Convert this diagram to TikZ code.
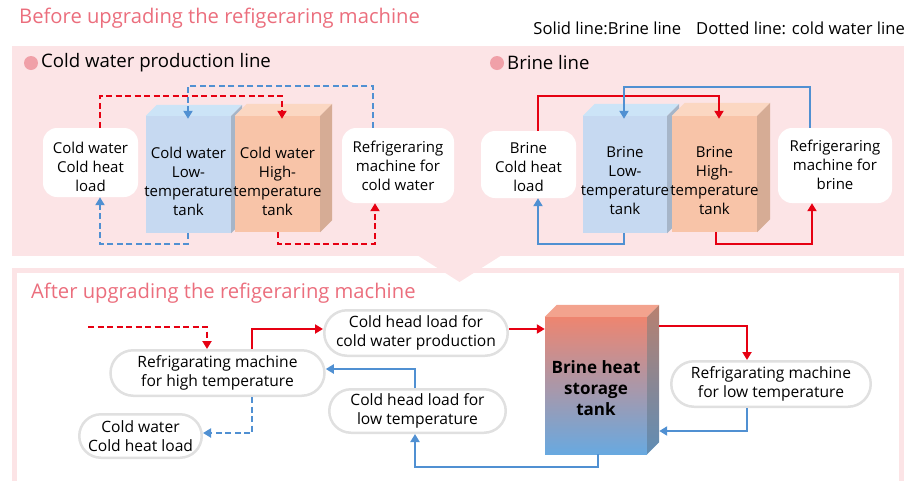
\documentclass[tikz,border=0pt]{standalone}
\usepackage{fontspec}
\setmainfont{Open Sans}
\usetikzlibrary{arrows.meta,calc}
\definecolor{pinkbg}{RGB}{252,228,230}
\definecolor{titlepink}{RGB}{235,110,125}
\definecolor{bullet}{RGB}{240,160,168}
\definecolor{cred}{RGB}{230,0,18}
\definecolor{cblue}{RGB}{80,144,210}
\definecolor{lowfront}{RGB}{198,217,241}
\definecolor{lowtop}{RGB}{204,228,247}
\definecolor{lowside}{RGB}{166,181,200}
\definecolor{highfront}{RGB}{248,196,168}
\definecolor{hightop}{RGB}{251,215,194}
\definecolor{highside}{RGB}{214,172,149}
\definecolor{pillgray}{RGB}{224,224,224}
\definecolor{tktop}{RGB}{238,133,112}
\definecolor{tkbot}{RGB}{104,169,224}
\definecolor{tkcap}{RGB}{243,163,142}
\definecolor{tksidetop}{RGB}{184,128,111}
\definecolor{tksidebot}{RGB}{95,141,181}
\newcommand\tankfaces[4]{%
  \fill[#2] (#1.north west) -- ++(#4,-#4) -- ($(#1.north east)+(#4,-#4)$) -- (#1.north east) -- cycle;
  \fill[#3] (#1.north east) -- ++(#4,-#4) -- ($(#1.south east)+(#4,-#4)$) -- (#1.south east) -- cycle;}
\begin{document}
\begin{tikzpicture}[x=1pt,y=-1pt,
  rbox/.style={fill=white, rounded corners=14pt, align=center, inner sep=0pt},
  pill/.style={fill=white, draw=pillgray, line width=2.5pt, align=center, inner sep=0pt, font=\fontsize{15.6}{18.5}\selectfont},
  tankfront/.style={inner sep=0pt},
  tanktext/.style={align=center, inner sep=0pt, font=\fontsize{15}{19}\selectfont},
  arr/.style={line width=2pt, -{Triangle[length=8pt,width=9pt]}},
  rl/.style={arr, draw=cred},
  bl/.style={arr, draw=cblue},
  rd/.style={rl, dash pattern=on 6pt off 3.5pt},
  bd/.style={bl, dash pattern=on 6pt off 3.5pt},
  tip/.style={shorten >=-3pt}]
\useasboundingbox (0,0) rectangle (916,480);
% panels
\fill[pinkbg] (12,46) rectangle (904,256);
\draw[pinkbg, line width=5pt] (14.5,270.5) rectangle (901.5,500);
\fill[pinkbg] (417,255) -- (502,255) -- (459.5,282) -- cycle;
% titles
\node[anchor=west, inner sep=0pt, text=titlepink, font=\fontsize{20.2}{24}\selectfont] (t1) at (19,18) {Before upgrading the refigeraring machine};
\node[anchor=east, inner sep=0pt, font=\fontsize{16.6}{19}\selectfont] (legend) at (905,28) {Solid line:Brine line\hspace{0.9em}Dotted line: cold water line};
\node[anchor=west, inner sep=0pt, text=titlepink, font=\fontsize{20.2}{24}\selectfont] (t2) at (31,293) {After upgrading the refigeraring machine};
% section headings
\fill[bullet] (31,63) circle (7);
\node[anchor=west, inner sep=0pt, font=\fontsize{18.6}{22}\selectfont] (h1) at (41,63) {Cold water production line};
\fill[bullet] (497,63) circle (7);
\node[anchor=west, inner sep=0pt, font=\fontsize{18.6}{22}\selectfont] (h2) at (507,63) {Brine line};
% cold water line
\node[rbox, minimum width=95pt, minimum height=69pt] (cwload) at (90.5,162.5) {};
\node[tanktext] (cwloadt) at (90.5,166.5) {Cold water\\Cold heat\\load};
\node[rbox, minimum width=112pt, minimum height=75pt] (cwmach) at (398,165.5) {};
\node[tanktext] (cwmacht) at (398,165.5) {Refrigeraring\\machine for\\cold water};
\node[tankfront, fill=lowfront, minimum width=85pt, minimum height=117pt] (cwlow) at (188.5,174.5) {};
\tankfaces{cwlow}{lowtop}{lowside}{11}
\node[tankfront, fill=highfront, minimum width=85pt, minimum height=116pt] (cwhigh) at (277.5,174) {};
\tankfaces{cwhigh}{hightop}{highside}{12}
\node[tanktext] (cwlowt) at (188.5,181) {Cold water\\Low-\\temperature\\tank};
\node[tanktext] (cwhight) at (277.5,181) {Cold water\\High-\\temperature\\tank};
\draw[rd, tip] (cwload.north -| 100,0) |- (282,96) -- (cwhigh.north -| 282,0);
\draw[bd, tip] (cwmach.north -| 373,0) |- (188,86) -- (cwlow.north -| 188,0);
\draw[bd] (cwlow.south -| 188,0) |- (100,244) -- (cwload.south -| 100,0);
\draw[rd] (cwhigh.south -| 278,0) |- (375,244) -- (cwmach.south -| 375,0);
% brine line
\node[rbox, minimum width=95pt, minimum height=67pt] (brload) at (528.5,164.5) {};
\node[tanktext] (brloadt) at (528.5,167) {Brine\\Cold heat\\load};
\node[rbox, minimum width=114pt, minimum height=75pt] (brmach) at (835,165.5) {};
\node[tanktext] (brmacht) at (835,165) {Refrigeraring\\machine for\\brine};
\node[tankfront, fill=lowfront, minimum width=84pt, minimum height=117pt] (brlow) at (625,174.5) {};
\tankfaces{brlow}{lowtop}{lowside}{12}
\node[tankfront, fill=highfront, minimum width=85pt, minimum height=116pt] (brhigh) at (714.5,174) {};
\tankfaces{brhigh}{hightop}{highside}{13}
\node[tanktext] (brlowt) at (625,181) {Brine\\Low-\\temperature\\tank};
\node[tanktext] (brhight) at (714.5,181) {Brine\\High-\\temperature\\tank};
\draw[rl, tip] (brload.north -| 538,0) |- (719,96) -- (brhigh.north -| 719,0);
\draw[bl, tip] (brmach.north -| 810,0) |- (624,87) -- (brlow.north -| 624,0);
\draw[bl] (brlow.south -| 624,0) |- (538,244) -- (brload.south -| 538,0);
\draw[rl] (brhigh.south -| 716,0) |- (812,244) -- (brmach.south -| 812,0);
% after upgrade
\node[pill, minimum width=214pt, minimum height=45.5pt, rounded corners=22.75pt] (hiM) at (217.5,373) {Refrigarating machine\\for high temperature};
\node[pill, minimum width=183.5pt, minimum height=45.5pt, rounded corners=22.75pt] (cwP) at (416,333) {Cold head load for\\cold water production};
\node[pill, minimum width=176.5pt, minimum height=43.5pt, rounded corners=21.75pt] (ltL) at (417.5,411) {Cold head load for\\low temperature};
\node[pill, minimum width=122.5pt, minimum height=43.5pt, rounded corners=21.75pt] (cwL) at (140.5,436) {Cold water\\Cold heat load};
\node[pill, minimum width=199.5pt, minimum height=45.5pt, rounded corners=22.75pt] (loM) at (771,384) {Refrigarating machine\\for low temperature};
\node[tankfront, top color=tktop, bottom color=tkbot, minimum width=102pt, minimum height=137pt] (tank) at (596,385.5) {};
\fill[tkcap] (tank.north west) -- ++(12,-12) -- ($(tank.north east)+(12,-12)$) -- (tank.north east) -- cycle;
\shade[top color=tksidetop, bottom color=tksidebot] (tank.north east) -- ++(12,-12) -- ($(tank.south east)+(12,-12)$) -- (tank.south east) -- cycle;
\node[align=center, inner sep=0pt, font=\bfseries\fontsize{17}{21}\selectfont] (tankt) at (596,388) {Brine heat\\storage\\tank};
\coordinate (tankR) at ($(tank.east)+(12,0)$);
\coordinate (dstart) at (88,327);
\draw[rd] (dstart) -| (hiM.north -| 207,0);
\draw[rl] (hiM.north -| 252,0) |- (cwP.west |- 0,329);
\draw[rl] (cwP.east |- 0,329) -- (tank.west |- 0,329);
\draw[rl] (tankR |- 0,326) -| (loM.north -| 747,0);
\draw[bl] (loM.south -| 747,0) |- (tankR |- 0,431);
\draw[bl] (tank.south -| 598,0) |- (415,467) -- (ltL.south -| 415,0);
\draw[bl] (ltL.north -| 415,0) |- (hiM.east |- 0,369);
\draw[bd] (hiM.south -| 252,0) |- (cwL.east |- 0,433);
\end{tikzpicture}
\end{document}
